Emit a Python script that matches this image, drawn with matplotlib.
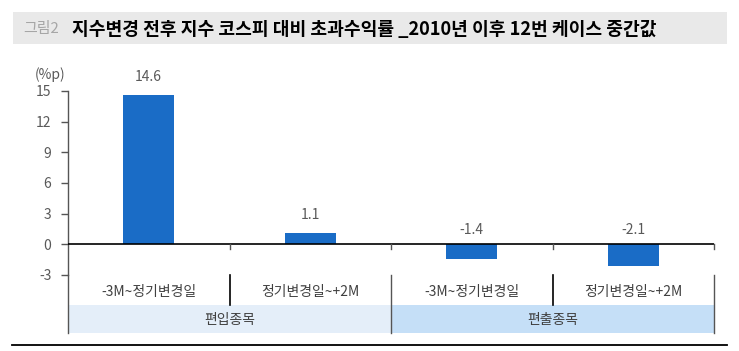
import matplotlib
matplotlib.use("Agg")
import matplotlib.pyplot as plt
from matplotlib.patches import Rectangle
from matplotlib.lines import Line2D

plt.rcParams['font.family'] = ['Noto Sans CJK KR', 'DejaVu Sans']

categories = ['-3M~정기변경일', '정기변경일~+2M', '-3M~정기변경일', '정기변경일~+2M']
groups = ['편입종목', '편출종목']
values = [14.6, 1.1, -1.4, -2.1]
yticks = [-3, 0, 3, 6, 9, 12, 15]
title_prefix = '그림2'
title_main = '지수변경 전후 지수 코스피 대비 초과수익률 _2010년 이후 12번 케이스 중간값'
unit_label = '(%p)'

W, H = 739, 351
fig = plt.figure(figsize=(W / 100, H / 100), dpi=100)
renderer = fig.canvas.get_renderer()

def fx(px):
    return px / W

def fy(py):
    return 1 - py / H

def fit_text(t, target_w):
    w = t.get_window_extent(renderer=renderer).width
    t.set_fontsize(t.get_fontsize() * target_w / w)
    return t

ax_l, ax_r, ax_t, ax_b = 68, 714, 91, 275
ax = fig.add_axes([fx(ax_l), fy(ax_b), fx(ax_r - ax_l), (ax_b - ax_t) / H])

bar_color = '#1a6cc6'
xs = list(range(len(values)))
ax.bar(xs, values, width=0.315, color=bar_color, zorder=2)
ax.set_xlim(-0.5, len(values) - 0.5)
ax.set_ylim(-3, 15)
ax.set_yticks(yticks)
ax.set_yticklabels([str(t) for t in yticks])
ax.tick_params(axis='y', direction='out', length=5, width=1, color='#555555',
               labelcolor='#595959', labelsize=10, pad=7)
ax.set_xticks([])
for s in ['top', 'right', 'bottom']:
    ax.spines[s].set_visible(False)
ax.spines['left'].set_color('#555555')
ax.spines['left'].set_linewidth(1)
ax.axhline(0, color='black', lw=1.2, zorder=3)
for i, v in enumerate(values):
    y = max(v, 0)
    off = 8 if v >= 0 else 5
    ax.annotate(f'{v:.1f}', (i, y), xytext=(0, off),
                textcoords='offset points', ha='center', va='bottom',
                fontsize=10, color='#595959')

cat_w = (ax_r - ax_l) / len(values)
zero_y = ax_t + (15 - 0) / 18 * (ax_b - ax_t)
for k in range(1, len(values) + 1):
    xb = ax_l + k * cat_w
    fig.add_artist(Line2D([fx(xb), fx(xb)], [fy(zero_y), fy(zero_y + 5)],
                          color='#555555', lw=1))

# table
row1_t, row1_b, row2_b = 275, 305, 333
fig.add_artist(Line2D([fx(ax_l), fx(ax_l)], [fy(ax_b), fy(row2_b)], color='#555555', lw=1))
group_colors = ['#e4eef9', '#c5dff7']
cat_texts = []
for i, c in enumerate(categories):
    cat_texts.append(fig.text(fx(ax_l + (i + 0.5) * cat_w), fy(292), c,
                              ha='center', va='center', fontsize=10, color='#404040'))
fit_text(cat_texts[0], 95)
cat_fs = cat_texts[0].get_fontsize()
for t in cat_texts:
    t.set_fontsize(cat_fs)
for g in range(2):
    x0 = ax_l + g * 2 * cat_w
    fig.add_artist(Rectangle((fx(x0), fy(row2_b)), fx(2 * cat_w), (row2_b - row1_b) / H,
                             facecolor=group_colors[g], edgecolor='none', zorder=0))
    fig.text(fx(x0 + cat_w), fy((row1_b + row2_b) / 2 + 1), groups[g], ha='center', va='center',
             fontsize=cat_fs, color='#404040')
for k in [1, 3]:
    xb = ax_l + k * cat_w
    fig.add_artist(Line2D([fx(xb), fx(xb)], [fy(row1_t), fy(row1_b)], color='black', lw=1.2))
for k in [2, 4]:
    xb = ax_l + k * cat_w
    fig.add_artist(Line2D([fx(xb), fx(xb)], [fy(row1_t), fy(row2_b)], color='#555555', lw=1))

# bottom line
fig.add_artist(Line2D([fx(12), fx(727)], [fy(345), fy(345)], color='black', lw=1.3))

# title band
fig.add_artist(Rectangle((fx(13), fy(44)), fx(714), 32 / H, facecolor='#e9e9e9',
                         edgecolor='none', zorder=0))
tp = fig.text(fx(23), fy(29), title_prefix, ha='left', va='center', fontsize=12,
              color='#a6a6a6', fontweight='medium')
fit_text(tp, 36)
tm = fig.text(fx(72), fy(29), title_main, ha='left', va='center', fontsize=12,
              color='black', fontweight='bold')
fit_text(tm, 585)

fig.text(fx(35), fy(75), unit_label, ha='left', va='center', fontsize=10, color='#595959')

fig.savefig('out.png', dpi=100)
